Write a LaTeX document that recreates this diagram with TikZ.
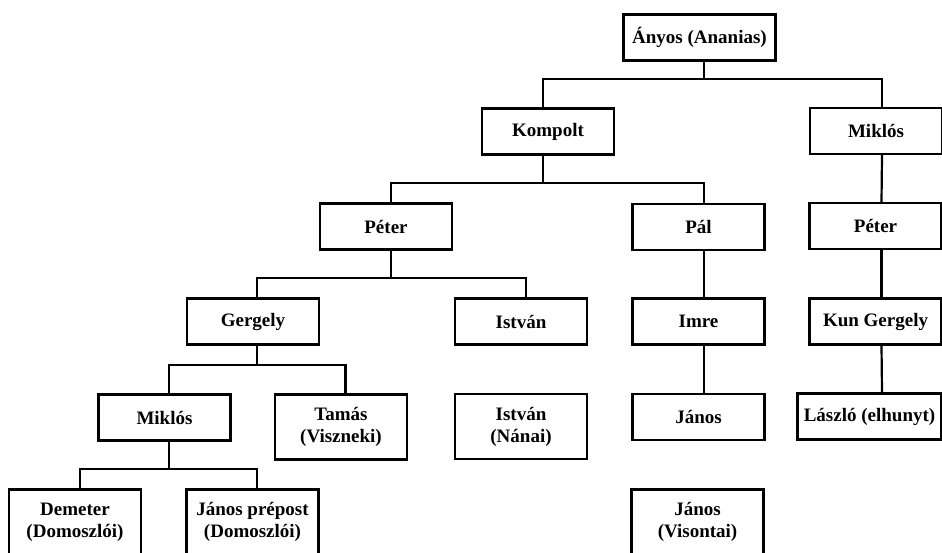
\documentclass[tikz,border=0pt]{standalone}
\usepackage{fontspec}
\setmainfont{Liberation Serif}
\begin{document}
\begin{tikzpicture}[x=1pt,y=-1pt,
  box/.style={draw, line width=2.2pt, minimum width=132pt, minimum height=46pt,
    inner sep=0pt, align=center, font=\fontsize{19}{22}\selectfont\bfseries},
  tall/.style={box, minimum height=65pt},
  conn/.style={line width=2.2pt}]
\useasboundingbox (0,0) rectangle (942,552);
% level 0
\node[box, minimum width=152pt] (A) at (699.5,37.5) {Ányos (Ananias)};
% level 1
\node[box] (K) at (548,131.5) {Kompolt};
\node[box] (MR) at (876,131) {Miklós};
% level 2
\node[box] (PL) at (386,226.5) {Péter};
\node[box] (PAL) at (698.5,227) {Pál};
\node[box] (PR) at (875.5,226) {Péter};
% level 3
\node[box] (G) at (253,321.5) {Gergely};
\node[box] (IA) at (521,321.5) {István};
\node[box] (IM) at (698.5,321.5) {Imre};
\node[box] (KG) at (875.5,321.5) {Kun Gergely};
% level 4
\node[box] (ML) at (164.5,417.5) {Miklós};
\node[tall] (T) at (341,427) {Tamás\\(Viszneki)};
\node[tall] (IN) at (521,426.5) {István\\(Nánai)};
\node[box] (JM) at (698.5,417) {János};
\node[box, minimum width=144pt] (L) at (869.5,416.5) {László (elhunyt)};
% level 5
\node[tall] (D) at (75,522) {Demeter\\(Domoszlói)};
\node[tall] (JP) at (252.5,522) {János prépost\\(Domoszlói)};
\node[tall] (JV) at (697.5,522) {János\\(Visontai)};
% connectors
\coordinate (b0) at (0,79);
\coordinate (b1) at (0,183);
\coordinate (b2) at (0,278);
\coordinate (b3) at (0,365);
\coordinate (b4) at (0,469);
\draw[conn] ([xshift=4.5pt]A.south) -- ([xshift=4.5pt]A.south |- b0);
\draw[conn] ([xshift=-5pt]K.north) -- ([xshift=-5pt]K.north |- b0) -- ([xshift=6pt]MR.north |- b0) -- ([xshift=6pt]MR.north);
\draw[conn] ([xshift=-5pt]K.south) -- ([xshift=-5pt]K.south |- b1);
\draw[conn] ([xshift=5pt]PL.north) -- ([xshift=5pt]PL.north |- b1) -- ([xshift=5.5pt]PAL.north |- b1) -- ([xshift=5.5pt]PAL.north);
\draw[conn] ([xshift=5pt]PL.south) -- ([xshift=5pt]PL.south |- b2);
\draw[conn] ([xshift=4pt]G.north) -- ([xshift=4pt]G.north |- b2) -- ([xshift=5pt]IA.north |- b2) -- ([xshift=5pt]IA.north);
\draw[conn] ([xshift=4pt]G.south) -- ([xshift=4pt]G.south |- b3);
\draw[conn] ([xshift=4.5pt]ML.north) -- ([xshift=4.5pt]ML.north |- b3) -- ([xshift=4.5pt]T.north |- b3) -- ([xshift=4.5pt]T.north);
\draw[conn] ([xshift=4.5pt]ML.south) -- ([xshift=4.5pt]ML.south |- b4);
\draw[conn] ([xshift=5pt]D.north) -- ([xshift=5pt]D.north |- b4) -- ([xshift=4.5pt]JP.north |- b4) -- ([xshift=4.5pt]JP.north);
\draw[conn] ([xshift=6pt]MR.south) -- ([xshift=6pt]PR.north);
\draw[conn] ([xshift=6pt]PR.south) -- ([xshift=6pt]KG.north);
\draw[conn] ([xshift=6pt]KG.south) -- ([xshift=12.5pt]L.north);
\draw[conn] ([xshift=5.5pt]PAL.south) -- ([xshift=5.5pt]IM.north);
\draw[conn] ([xshift=5.5pt]IM.south) -- ([xshift=5.5pt]JM.north);
\end{tikzpicture}
\end{document}
